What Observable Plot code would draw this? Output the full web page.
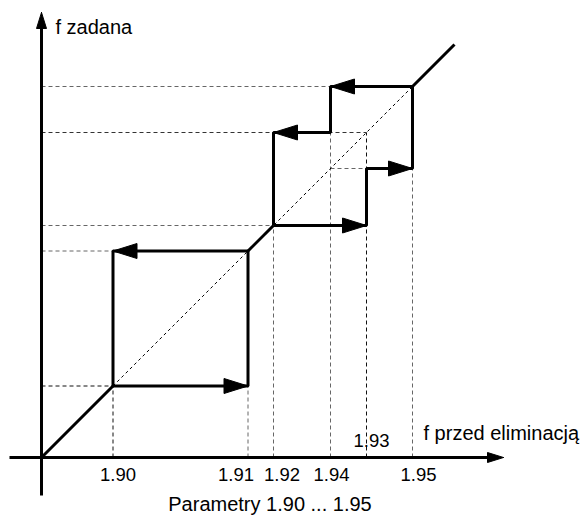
<!DOCTYPE html>
<html>
<head>
<meta charset="utf-8">
<script src="https://cdn.jsdelivr.net/npm/d3@7"></script>
<script src="https://cdn.jsdelivr.net/npm/@observablehq/plot@0.6"></script>
<style>
  html, body { margin: 0; padding: 0; background: #fff; }
</style>
</head>
<body>
<div id="chart"></div>
<script>
// ---- data (schematic units: diagonal is f_out = f_in) ----
const levelLabels = ["1.90", "1.91", "1.92", "1.94", "1.93", "1.95"];
const levels = [71.5, 206.5, 232, 289, 325, 371];
const diagonalEnd = 413;
const xAxisTitle = "f przed eliminacją";
const yAxisTitle = "f zadana";
const caption = "Parametry 1.90 ... 1.95";

// ---- derived geometry ----
const L = levels;
const solidPaths = [
  [[0, 0], [L[0], L[0]]],
  [[L[0], L[0]], [L[1], L[0]], [L[1], L[1]], [L[0], L[1]], [L[0], L[0]]],
  [[L[1], L[1]], [L[2], L[2]]],
  [[L[2], L[2]], [L[4], L[2]], [L[4], L[3]], [L[5], L[3]], [L[5], L[5]],
   [L[3], L[5]], [L[3], L[4]], [L[2], L[4]], [L[2], L[2]]],
  [[L[5], L[5]], [diagonalEnd, diagonalEnd]]
];
const solidRows = solidPaths.flatMap((p, g) => p.map(([x, y]) => ({x, y, g})));

const loopArrows = [
  {x: L[1], y: L[0], dx: 1, dy: 0},
  {x: L[0], y: L[1], dx: -1, dy: 0},
  {x: L[4], y: L[2], dx: 1, dy: 0},
  {x: L[5], y: L[3], dx: 1, dy: 0},
  {x: L[3], y: L[5], dx: -1, dy: 0},
  {x: L[2], y: L[4], dx: -1, dy: 0}
];
const X_MIN = -32, X_MAX = 462, Y_MIN = -38, Y_MAX = 445;
const axisArrows = [
  {x: X_MAX, y: 0, dx: 1, dy: 0},
  {x: 0, y: Y_MAX, dx: 0, dy: 1}
];
function triangles(arr, len, wid, offset) {
  return arr.flatMap((a, i) => {
    const bx = a.x - a.dx * len, by = a.y - a.dy * len;
    const px = -a.dy * wid / 2, py = a.dx * wid / 2;
    return [
      {x: a.x, y: a.y, g: offset + i},
      {x: bx + px, y: by + py, g: offset + i},
      {x: bx - px, y: by - py, g: offset + i},
      {x: a.x, y: a.y, g: offset + i}
    ];
  });
}
const triRows = [...triangles(loopArrows, 24, 15, 0), ...triangles(axisArrows, 16, 10, 100)];

const DARK = "#111", GREY = "#666";
const vDash = [
  {x1: L[0], y1: 0, x2: L[0], y2: L[0], c: DARK},
  {x1: L[1], y1: 0, x2: L[1], y2: L[0], c: GREY},
  {x1: L[2], y1: 0, x2: L[2], y2: L[2], c: GREY},
  {x1: L[3], y1: 0, x2: L[3], y2: L[4], c: GREY},
  {x1: L[4], y1: 0, x2: L[4], y2: L[4], c: DARK},
  {x1: L[5], y1: 0, x2: L[5], y2: L[3], c: GREY}
];
const hDash = [
  {x1: 0, y1: L[0], x2: L[0], y2: L[0], c: DARK},
  {x1: 0, y1: L[1], x2: L[0], y2: L[1], c: GREY},
  {x1: 0, y1: L[2], x2: L[2], y2: L[2], c: GREY},
  {x1: L[3], y1: L[3], x2: L[4], y2: L[3], c: GREY},
  {x1: 0, y1: L[4], x2: L[4], y2: L[4], c: "#333"},
  {x1: 0, y1: L[5], x2: L[3], y2: L[5], c: GREY}
];
const axes = [
  {x1: X_MIN, y1: 0, x2: X_MAX - 8, y2: 0},
  {x1: 0, y1: Y_MIN, x2: 0, y2: Y_MAX - 8}
];
// horizontal nudges of tick labels relative to their dashed line (px)
const labelNudge = {"1.90": 5, "1.91": -12, "1.92": 8.5, "1.94": 1, "1.93": 5, "1.95": 6};
const tickRows = levelLabels.map((t, i) => ({t, x: L[i]})).filter(d => d.t !== "1.93");
const innerLabel = levelLabels.map((t, i) => ({t, x: L[i]})).filter(d => d.t === "1.93");

const font = "'Liberation Sans', Arial, sans-serif";

const chart = Plot.plot({
  width: 582,
  height: 516,
  margin: 0,
  style: {fontFamily: font, background: "#fff", color: "#000"},
  x: {type: "linear", domain: [0, 400], range: [41, 441], axis: null},
  y: {type: "linear", domain: [0, 400], range: [457, 57], axis: null},
  marks: [
    Plot.link([...vDash, ...hDash], {x1: "x1", y1: "y1", x2: "x2", y2: "y2",
      stroke: "c", strokeWidth: 1, strokeDasharray: "4,3"}),
    Plot.link([{x1: L[0], y1: L[0], x2: L[5], y2: L[5]}], {x1: "x1", y1: "y1", x2: "x2", y2: "y2",
      stroke: "#000", strokeWidth: 1, strokeDasharray: "3,3"}),
    Plot.link(axes, {x1: "x1", y1: "y1", x2: "x2", y2: "y2", stroke: "#000", strokeWidth: 3}),
    Plot.line(solidRows, {x: "x", y: "y", z: "g", stroke: "#000", strokeWidth: 3,
      strokeLinejoin: "miter", strokeLinecap: "butt"}),
    Plot.line(triRows, {x: "x", y: "y", z: "g", fill: "#000", stroke: "#000", strokeWidth: 1,
      strokeLinejoin: "miter"}),
    ...tickRows.map(d => Plot.text([d], {x: "x", y: () => 0, text: "t", dx: labelNudge[d.t], dy: 23,
      lineAnchor: "bottom", textAnchor: "middle", fontSize: 18.5, fill: "#000"})),
    Plot.text(innerLabel, {x: "x", y: () => 0, text: "t", dx: labelNudge["1.93"], dy: -11,
      lineAnchor: "bottom", textAnchor: "middle", fontSize: 18.5, fill: "#000"}),
    Plot.text([xAxisTitle], {x: () => L[5], y: () => 0, text: d => d, dx: 11, dy: -18,
      lineAnchor: "bottom", textAnchor: "start", fontSize: 20, fill: "#000"}),
    Plot.text([yAxisTitle], {x: () => 0, y: () => Y_MAX, text: d => d, dx: 14, dy: 21,
      lineAnchor: "bottom", textAnchor: "start", fontSize: 20, fill: "#000"}),
    Plot.text([caption], {frameAnchor: "bottom", text: d => d, dx: -21.5, dy: -6,
      lineAnchor: "bottom", textAnchor: "middle", fontSize: 20, fill: "#000"})
  ]
});
document.getElementById("chart").appendChild(chart);
</script>
</body>
</html>
